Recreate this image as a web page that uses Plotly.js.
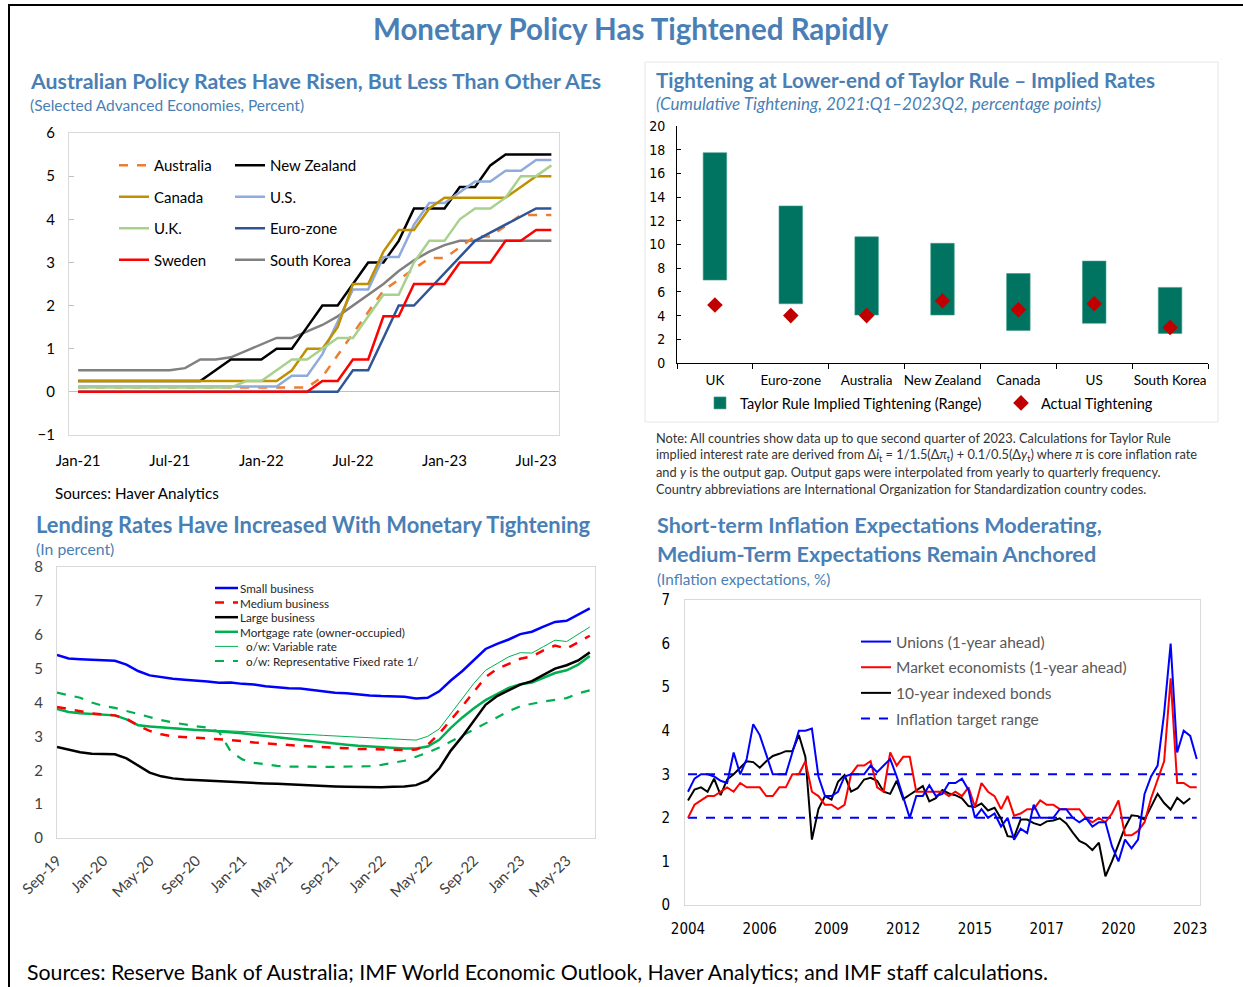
<!DOCTYPE html>
<html><head><meta charset="utf-8">
<script src="https://cdn.plot.ly/plotly-3.0.1.min.js"></script>
<style>html,body{margin:0;padding:0;background:#fff;overflow:hidden;} #chart{width:1243px;height:987px;}</style>
</head><body><div id="chart"></div>
<script>
// ---------------- DATA ----------------
// Panel 1: policy rates, monthly Jan-21 .. Aug-23
const policyMonths = ['Jan-21','Feb-21','Mar-21','Apr-21','May-21','Jun-21','Jul-21','Aug-21','Sep-21','Oct-21','Nov-21','Dec-21',
  'Jan-22','Feb-22','Mar-22','Apr-22','May-22','Jun-22','Jul-22','Aug-22','Sep-22','Oct-22','Nov-22','Dec-22',
  'Jan-23','Feb-23','Mar-23','Apr-23','May-23','Jun-23','Jul-23','Aug-23'];
const policyTickLabels = ['Jan-21','Jul-21','Jan-22','Jul-22','Jan-23','Jul-23'];
const australia = [0.1,0.1,0.1,0.1,0.1,0.1,0.1,0.1,0.1,0.1,0.1,0.1,0.1,0.1,0.1,0.1,0.35,0.85,1.35,1.85,2.35,2.6,2.85,3.1,3.1,3.35,3.6,3.6,3.85,4.1,4.1,4.1];
const newZealand = [0.25,0.25,0.25,0.25,0.25,0.25,0.25,0.25,0.25,0.5,0.75,0.75,0.75,1.0,1.0,1.5,2.0,2.0,2.5,3.0,3.0,3.5,4.25,4.25,4.25,4.75,4.75,5.25,5.5,5.5,5.5,5.5];
const canada = [0.25,0.25,0.25,0.25,0.25,0.25,0.25,0.25,0.25,0.25,0.25,0.25,0.25,0.25,0.5,1.0,1.0,1.5,2.5,2.5,3.25,3.75,3.75,4.25,4.5,4.5,4.5,4.5,4.5,4.75,5.0,5.0];
const us = [0.125,0.125,0.125,0.125,0.125,0.125,0.125,0.125,0.125,0.125,0.125,0.125,0.125,0.125,0.375,0.375,0.875,1.625,2.375,2.375,3.125,3.125,3.875,4.375,4.375,4.625,4.875,4.875,5.125,5.125,5.375,5.375];
const uk = [0.1,0.1,0.1,0.1,0.1,0.1,0.1,0.1,0.1,0.1,0.1,0.25,0.25,0.5,0.75,0.75,1.0,1.25,1.25,1.75,2.25,2.25,3.0,3.5,3.5,4.0,4.25,4.25,4.5,5.0,5.0,5.25];
const euroZone = [0,0,0,0,0,0,0,0,0,0,0,0,0,0,0,0,0,0,0.5,0.5,1.25,2.0,2.0,2.375,2.75,3.125,3.5,3.69,3.88,4.06,4.25,4.25];
const sweden = [0,0,0,0,0,0,0,0,0,0,0,0,0,0,0,0,0.25,0.25,0.75,0.75,1.75,1.75,2.5,2.5,2.5,3.0,3.0,3.0,3.5,3.5,3.75,3.75];
const southKorea = [0.5,0.5,0.5,0.5,0.5,0.5,0.5,0.55,0.75,0.75,0.8,0.95,1.1,1.25,1.25,1.4,1.55,1.75,2.0,2.25,2.5,2.8,3.05,3.25,3.4,3.5,3.5,3.5,3.5,3.5,3.5,3.5];

// Panel 2: Taylor rule ranges
const taylorCountries = ['UK','Euro-zone','Australia','New Zealand','Canada','US','South Korea'];
const taylorLow  = [7.0, 5.0, 4.05, 4.05, 2.75, 3.35, 2.5];
const taylorHigh = [17.75, 13.25, 10.65, 10.1, 7.55, 8.6, 6.38];
const actualTightening = [4.9, 4.0, 4.0, 5.25, 4.5, 5.0, 3.0];

// Panel 3: lending rates, monthly Sep-19 .. Jul-23
const lendMonths = ['Sep-19','Oct-19','Nov-19','Dec-19','Jan-20','Feb-20','Mar-20','Apr-20','May-20','Jun-20','Jul-20','Aug-20',
  'Sep-20','Oct-20','Nov-20','Dec-20','Jan-21','Feb-21','Mar-21','Apr-21','May-21','Jun-21','Jul-21','Aug-21',
  'Sep-21','Oct-21','Nov-21','Dec-21','Jan-22','Feb-22','Mar-22','Apr-22','May-22','Jun-22','Jul-22','Aug-22',
  'Sep-22','Oct-22','Nov-22','Dec-22','Jan-23','Feb-23','Mar-23','Apr-23','May-23','Jun-23','Jul-23'];
const lendTickLabels = ['Sep-19','Jan-20','May-20','Sep-20','Jan-21','May-21','Sep-21','Jan-22','May-22','Sep-22','Jan-23','May-23'];
const smallBusiness = [5.40,5.30,5.28,5.27,5.26,5.23,5.12,4.93,4.80,4.74,4.70,4.67,4.65,4.62,4.58,4.59,4.55,4.53,4.48,4.44,4.42,4.41,4.37,4.32,4.29,4.27,4.23,4.21,4.19,4.19,4.17,4.12,4.14,4.33,4.65,4.93,5.26,5.58,5.73,5.86,6.02,6.09,6.24,6.38,6.41,6.60,6.78];
const mediumBusiness = [3.87,3.80,3.73,3.68,3.65,3.62,3.52,3.32,3.16,3.06,3.00,2.97,2.96,2.94,2.92,2.89,2.86,2.82,2.79,2.77,2.74,2.72,2.70,2.69,2.67,2.65,2.63,2.62,2.61,2.60,2.60,2.61,2.75,3.08,3.48,3.89,4.32,4.75,4.99,5.14,5.29,5.36,5.54,5.68,5.59,5.78,5.97];
const largeBusiness = [2.69,2.62,2.53,2.49,2.48,2.47,2.35,2.13,1.93,1.82,1.76,1.73,1.71,1.70,1.69,1.67,1.65,1.63,1.61,1.60,1.58,1.57,1.56,1.54,1.52,1.51,1.50,1.50,1.50,1.51,1.52,1.56,1.70,2.05,2.58,3.00,3.47,3.93,4.19,4.37,4.53,4.63,4.82,5.00,5.10,5.24,5.48];
const mortgageRate = [3.81,3.72,3.68,3.66,3.65,3.62,3.50,3.33,3.29,3.26,3.23,3.21,3.19,3.17,3.15,3.12,3.09,3.05,3.01,2.97,2.93,2.89,2.85,2.82,2.79,2.75,2.72,2.70,2.67,2.65,2.64,2.64,2.70,2.90,3.25,3.56,3.83,4.07,4.25,4.43,4.54,4.59,4.73,4.87,4.95,5.12,5.37];
const variableRate = [3.82,3.72,3.68,3.66,3.65,3.62,3.50,3.34,3.30,3.27,3.24,3.22,3.20,3.19,3.18,3.16,3.15,3.13,3.11,3.10,3.08,3.06,3.05,3.03,3.01,2.99,2.97,2.95,2.94,2.92,2.91,2.89,3.00,3.22,3.67,4.12,4.57,4.95,5.14,5.35,5.47,5.46,5.65,5.84,5.80,6.02,6.23];
const fixedRate = [4.29,4.22,4.14,4.00,3.90,3.84,3.75,3.65,3.57,3.48,3.41,3.35,3.30,3.26,3.13,2.55,2.32,2.22,2.17,2.13,2.11,2.10,2.10,2.10,2.10,2.10,2.11,2.12,2.16,2.21,2.28,2.40,2.52,2.67,2.85,3.02,3.21,3.38,3.56,3.74,3.89,3.97,4.03,4.08,4.13,4.27,4.36];

// Panel 4: inflation expectations, quarterly 2004Q1 .. 2023Q3
const quarters = ['2004Q1','2004Q2','2004Q3','2004Q4','2005Q1','2005Q2','2005Q3','2005Q4','2006Q1','2006Q2','2006Q3','2006Q4',
  '2007Q1','2007Q2','2007Q3','2007Q4','2008Q1','2008Q2','2008Q3','2008Q4','2009Q1','2009Q2','2009Q3','2009Q4',
  '2010Q1','2010Q2','2010Q3','2010Q4','2011Q1','2011Q2','2011Q3','2011Q4','2012Q1','2012Q2','2012Q3','2012Q4',
  '2013Q1','2013Q2','2013Q3','2013Q4','2014Q1','2014Q2','2014Q3','2014Q4','2015Q1','2015Q2','2015Q3','2015Q4',
  '2016Q1','2016Q2','2016Q3','2016Q4','2017Q1','2017Q2','2017Q3','2017Q4','2018Q1','2018Q2','2018Q3','2018Q4',
  '2019Q1','2019Q2','2019Q3','2019Q4','2020Q1','2020Q2','2020Q3','2020Q4','2021Q1','2021Q2','2021Q3','2021Q4',
  '2022Q1','2022Q2','2022Q3','2022Q4','2023Q1','2023Q2','2023Q3'];
const quarterTickQuarters = ['2004Q1','2006Q4','2009Q3','2012Q2','2015Q1','2017Q4','2020Q3','2023Q2'];
const unions = [2.6,2.9,3.0,3.0,2.95,2.85,2.8,3.5,3.0,3.35,4.15,3.9,3.45,3.0,3.0,3.0,3.5,4.0,4.0,4.05,
  2.95,2.5,2.5,2.6,2.95,3.0,3.0,3.0,3.2,3.05,3.2,3.35,2.95,2.5,2.0,2.5,2.5,2.75,2.5,2.55,
  2.8,2.8,2.9,2.64,2.0,2.2,2.0,2.1,1.8,2.0,1.5,1.75,1.65,2.3,2.0,2.0,2.0,2.2,2.2,2.0,
  1.9,2.0,1.8,1.9,1.9,1.35,1.0,1.5,1.3,1.5,2.55,2.95,3.2,4.4,6.0,3.5,4.0,3.88,3.35];
const marketEconomists = [2.0,2.3,2.4,2.5,2.5,2.6,2.7,2.6,2.8,2.7,2.7,2.7,2.5,2.5,2.7,2.7,3.0,3.0,3.3,2.6,
  2.5,2.3,2.3,2.2,2.3,3.0,3.2,3.2,3.3,2.7,2.6,3.5,3.2,3.4,3.4,2.6,2.6,2.6,2.6,2.6,
  2.5,2.6,2.5,2.7,2.25,2.8,2.6,2.5,2.2,2.5,2.05,2.1,2.2,2.2,2.4,2.3,2.3,2.2,2.2,2.2,
  2.2,2.0,1.9,2.0,1.9,2.1,2.4,1.6,1.6,1.7,1.9,2.45,2.9,3.3,5.2,2.8,2.8,2.7,2.7];
const indexedBonds = [2.4,2.65,2.7,2.6,2.9,2.52,2.88,3.0,3.15,3.3,3.28,3.15,3.3,3.42,3.47,3.53,3.53,3.9,3.4,1.5,
  2.2,2.5,2.42,2.83,2.98,2.6,2.68,2.88,2.92,2.85,2.6,2.55,2.85,2.43,2.53,2.64,2.73,2.38,2.45,2.64,
  2.56,2.52,2.45,2.27,2.25,2.33,2.17,2.23,1.98,1.58,1.56,1.96,1.96,1.88,1.83,1.92,1.94,1.99,1.87,1.66,
  1.47,1.4,1.26,1.43,0.66,1.0,1.38,1.78,2.06,2.04,1.96,2.27,2.55,2.34,2.19,2.46,2.33,2.45];
const targetLow = 2, targetHigh = 3;

// ---------------- HELPERS ----------------
const W = 1243, H = 987;
const X = px => px / W;
const Y = py => 1 - py / H;
const F = 'Lato, "Open Sans", sans-serif';
const NARROW = '"Liberation Sans Narrow", "Arial Narrow", "DejaVu Sans Condensed", sans-serif';
const TBLUE = '#4a7fb5';
const idx = arr => arr.map((_, i) => i);
const pick = (labels, all) => labels.map(l => all.indexOf(l));

const m1 = idx(policyMonths);
const m3 = idx(lendMonths);
const q4 = idx(quarters);

const traces = [];
function p1(name, y, color, legend, rank, dash) {
  traces.push({type:'scatter', mode:'lines', x:m1, y:y, name:name, xaxis:'x', yaxis:'y',
    line:{color:color, width:2.5, dash:dash||'solid'}, legend:legend, legendrank:rank, legendgroup:name});
}
p1('South Korea', southKorea, '#808080', 'legend2', 4);
p1('New Zealand', newZealand, '#000000', 'legend2', 1);
p1('Australia', australia, '#ed7d31', 'legend', 1, 'dash');
p1('U.S.', us, '#8faadc', 'legend2', 2);
p1('Canada', canada, '#bf9000', 'legend', 2);
p1('U.K.', uk, '#a9d18e', 'legend', 3);
p1('Euro-zone', euroZone, '#2f5597', 'legend2', 3);
p1('Sweden', sweden, '#ff0000', 'legend', 4);

// Panel 2
traces.push({type:'bar', x:taylorCountries, y:taylorHigh.map((h,i)=>h - taylorLow[i]), base:taylorLow,
  width:0.31, marker:{color:'#007361', line:{color:'#3f9c8c', width:0.6}},
  name:'Taylor Rule Implied Tightening (Range)', xaxis:'x2', yaxis:'y2', legend:'legend3'});
traces.push({type:'scatter', mode:'markers', x:taylorCountries, y:actualTightening,
  marker:{symbol:'diamond', size:12, color:'#c00000'},
  name:'Actual Tightening', xaxis:'x2', yaxis:'y2', legend:'legend5'});

// Panel 3
function p3(y, color, width, dash) {
  traces.push({type:'scatter', mode:'lines', x:m3, y:y, xaxis:'x3', yaxis:'y3', showlegend:false,
    line:{color:color, width:width, dash:dash||'solid'}});
}
p3(fixedRate, '#00b050', 2.2, 'dash');
p3(variableRate, '#00b050', 1);
p3(mortgageRate, '#00b050', 2.5);
p3(largeBusiness, '#000000', 2.5);
p3(mediumBusiness, '#ff0000', 2.5, 'dash');
p3(smallBusiness, '#0000ff', 2.5);

// Panel 4
const qEnd = q4[q4.length - 1];
traces.push({type:'scatter', mode:'lines', x:[0, qEnd, null, 0, qEnd], y:[targetLow, targetLow, null, targetHigh, targetHigh],
  name:'Inflation target range', xaxis:'x4', yaxis:'y4', line:{color:'#0000ff', width:2, dash:'dash'},
  legend:'legend4', legendrank:4, legendgroup:'t'});
traces.push({type:'scatter', mode:'lines', x:q4.slice(0, indexedBonds.length), y:indexedBonds, name:'10-year indexed bonds',
  xaxis:'x4', yaxis:'y4', line:{color:'#000000', width:2}, legend:'legend4', legendrank:3, legendgroup:'b'});
traces.push({type:'scatter', mode:'lines', x:q4, y:marketEconomists, name:'Market economists (1-year ahead)',
  xaxis:'x4', yaxis:'y4', line:{color:'#ff0000', width:2}, legend:'legend4', legendrank:2, legendgroup:'m'});
traces.push({type:'scatter', mode:'lines', x:q4, y:unions, name:'Unions (1-year ahead)',
  xaxis:'x4', yaxis:'y4', line:{color:'#0000ff', width:2}, legend:'legend4', legendrank:1, legendgroup:'u'});

// ---------------- ANNOTATIONS ----------------
const annotations = [];
function txt(text, x, y, size, color, opts) {
  annotations.push(Object.assign({text:text, x:X(x), y:Y(y), xref:'paper', yref:'paper', showarrow:false,
    xanchor:'left', yanchor:'middle', align:'left', font:{family:F, size:size, color:color}}, opts||{}));
}
const bold = (s, c) => ({font:{family:F, size:s, color:c||TBLUE, weight:700}});
txt('Monetary Policy Has Tightened Rapidly', 631, 28, 29.5, TBLUE, Object.assign({xanchor:'center'}, bold(29.5)));
txt('Australian Policy Rates Have Risen, But Less Than Other AEs', 28, 81, 21.3, TBLUE, bold(21.3));
txt('(Selected Advanced Economies, Percent)', 28, 105, 15.5, TBLUE);
txt('Sources: Haver Analytics', 53, 493, 15.2, '#000');
txt('Tightening at Lower-end of Taylor Rule \u2013 Implied Rates', 654, 80, 20.6, TBLUE, bold(20.6));
txt('<i>(Cumulative Tightening, 2021:Q1\u20132023Q2, percentage points)</i>', 654, 104, 17, TBLUE);
const noteLines = [
  'Note: All countries show data up to que second quarter of 2023. Calculations for Taylor Rule',
  'implied interest rate are derived from \u0394<i>i</i><sub>t</sub> = 1/1.5(\u0394<i>\u03c0</i><sub>t</sub>) + 0.1/0.5(\u0394<i>y</i><sub>t</sub>) where <i>\u03c0</i> is core inflation rate',
  'and <i>y</i> is the output gap. Output gaps were interpolated from yearly to quarterly frequency.',
  'Country abbreviations are International Organization for Standardization country codes.'];
noteLines.forEach((l, i) => txt(l, 654, 438 + i * 17, 12.8, '#333'));
txt('Lending Rates Have Increased With Monetary Tightening', 34, 524, 21.9, TBLUE, bold(21.9));
txt('(In percent)', 34, 548, 15.8, TBLUE);
txt('Short-term Inflation Expectations Moderating,', 655, 525, 21.6, TBLUE, bold(21.6));
txt('Medium-Term Expectations Remain Anchored', 655, 554, 21.6, TBLUE, bold(21.6));
txt('(Inflation expectations, %)', 655, 579, 15.3, TBLUE);
txt('Sources: Reserve Bank of Australia; IMF World Economic Outlook, Haver Analytics; and IMF staff calculations.', 25, 972, 21.3, '#000');

// Panel 3 legend (drawn with shapes + text to match the tight row spacing)
const shapes = [];
const p3Legend = [
  ['Small business', '#0000ff', 2.5, 'solid', 239],
  ['Medium business', '#ff0000', 2.5, 'dash', 239],
  ['Large business', '#000000', 2.5, 'solid', 239],
  ['Mortgage rate (owner-occupied)', '#00b050', 2.5, 'solid', 239],
  ['o/w: Variable rate', '#00b050', 1, 'solid', 245],
  ['o/w: Representative Fixed rate 1/', '#00b050', 2.2, 'dash', 245]];
p3Legend.forEach((e, i) => {
  const yy = 588 + i * 14.6;
  shapes.push({type:'line', xref:'paper', yref:'paper', x0:X(215), x1:X(238), y0:Y(yy), y1:Y(yy),
    line:{color:e[1], width:e[2], dash:e[3]}});
  txt(e[0], e[4] - 1, yy, 11.7, '#262626');
});
// outer frame & panel-2 box
shapes.push({type:'rect', xref:'paper', yref:'paper', x0:X(9), x1:X(1260), y0:Y(5), y1:Y(1000), line:{color:'#000', width:2}});
shapes.push({type:'rect', xref:'paper', yref:'paper', x0:X(645), x1:X(1218), y0:Y(62), y1:Y(422), line:{color:'#e6e6e6', width:1}});

// ---------------- LAYOUT ----------------
const frame = {showline:true, mirror:true, linecolor:'#d9d9d9', linewidth:1, showgrid:false, zeroline:false, automargin:false};
const legBase = {bgcolor:'rgba(0,0,0,0)', borderwidth:0, xref:'paper', yref:'paper', xanchor:'left', yanchor:'top', itemclick:false, itemdoubleclick:false};

const layout = {
  width:W, height:H, margin:{l:0, r:0, t:0, b:0, autoexpand:false}, paper_bgcolor:'#fff', plot_bgcolor:'#fff',
  font:{family:F, color:'#000'}, showlegend:true, hovermode:false, bargap:0,
  xaxis: Object.assign({}, frame, {domain:[X(69), X(559)], range:[-0.6, 31.5], anchor:'y',
    tickvals:pick(policyTickLabels, policyMonths), ticktext:policyTickLabels, ticks:'',
    tickfont:{family:F, size:15, color:'#000'}, ticklabelstandoff:12}),
  yaxis: Object.assign({}, frame, {domain:[Y(435), Y(133)], range:[-1, 6], dtick:1, anchor:'x',
    zeroline:true, zerolinecolor:'#bfbfbf', zerolinewidth:1, ticks:'inside', ticklen:5, tickcolor:'#bfbfbf',
    tickfont:{family:F, size:15, color:'#000'}, ticklabelstandoff:10}),
  xaxis2: {domain:[X(677), X(1208)], range:[-0.5, 6.5], type:'category', anchor:'y2', tickson:'boundaries', tickangle:0,
    ticks:'outside', ticklen:5, tickcolor:'#000', showline:true, linecolor:'#000', linewidth:1, showgrid:false, automargin:false,
    tickfont:{family:F, size:13.5, color:'#000'}, ticklabelstandoff:5},
  yaxis2: {domain:[Y(363), Y(126)], range:[0, 20], dtick:2, anchor:'x2', showline:true, linecolor:'#000', linewidth:1,
    ticks:'inside', ticklen:4, tickcolor:'#000', showgrid:false, zeroline:false, automargin:false,
    tickfont:{family:NARROW, size:14, color:'#000'}, ticklabelstandoff:8},
  xaxis3: Object.assign({}, frame, {domain:[X(57), X(595)], range:[0, 46.45], anchor:'y3',
    tickvals:pick(lendTickLabels, lendMonths), ticktext:lendTickLabels, tickangle:-45, ticks:'',
    tickfont:{family:F, size:15, color:'#404040'}, ticklabelstandoff:7}),
  yaxis3: Object.assign({}, frame, {domain:[Y(838), Y(567)], range:[0, 8], dtick:1, anchor:'x3', ticks:'',
    tickfont:{family:F, size:15, color:'#404040'}, ticklabelstandoff:10}),
  xaxis4: Object.assign({}, frame, {domain:[X(685), X(1200)], range:[-0.46, 78.5], anchor:'y4',
    tickvals:pick(quarterTickQuarters, quarters), ticktext:quarterTickQuarters.map(q => q.slice(0, 4)), ticks:'',
    tickfont:{family:NARROW, size:15, color:'#000'}, ticklabelstandoff:10}),
  yaxis4: Object.assign({}, frame, {domain:[Y(905), Y(600)], range:[0, 7], dtick:1, anchor:'x4', ticks:'',
    tickfont:{family:NARROW, size:15, color:'#000'}, ticklabelstandoff:11}),
  legend: Object.assign({}, legBase, {x:X(114), y:Y(149), font:{family:F, size:15, color:'#000'}, tracegroupgap:9}),
  legend2: Object.assign({}, legBase, {x:X(230), y:Y(149), font:{family:F, size:15, color:'#000'}, tracegroupgap:9}),
  legend3: Object.assign({}, legBase, {x:X(700), y:Y(403), yanchor:'middle', font:{family:F, size:14.5, color:'#000'}}),
  legend5: Object.assign({}, legBase, {x:X(1001), y:Y(403), yanchor:'middle', font:{family:F, size:14.5, color:'#000'}}),
  legend4: Object.assign({}, legBase, {x:X(856), y:Y(625), font:{family:F, size:15.5, color:'#595959'}, tracegroupgap:2.5}),
  annotations: annotations, shapes: shapes
};

Plotly.newPlot('chart', traces, layout, {staticPlot:true, displayModeBar:false});
</script></body></html>
